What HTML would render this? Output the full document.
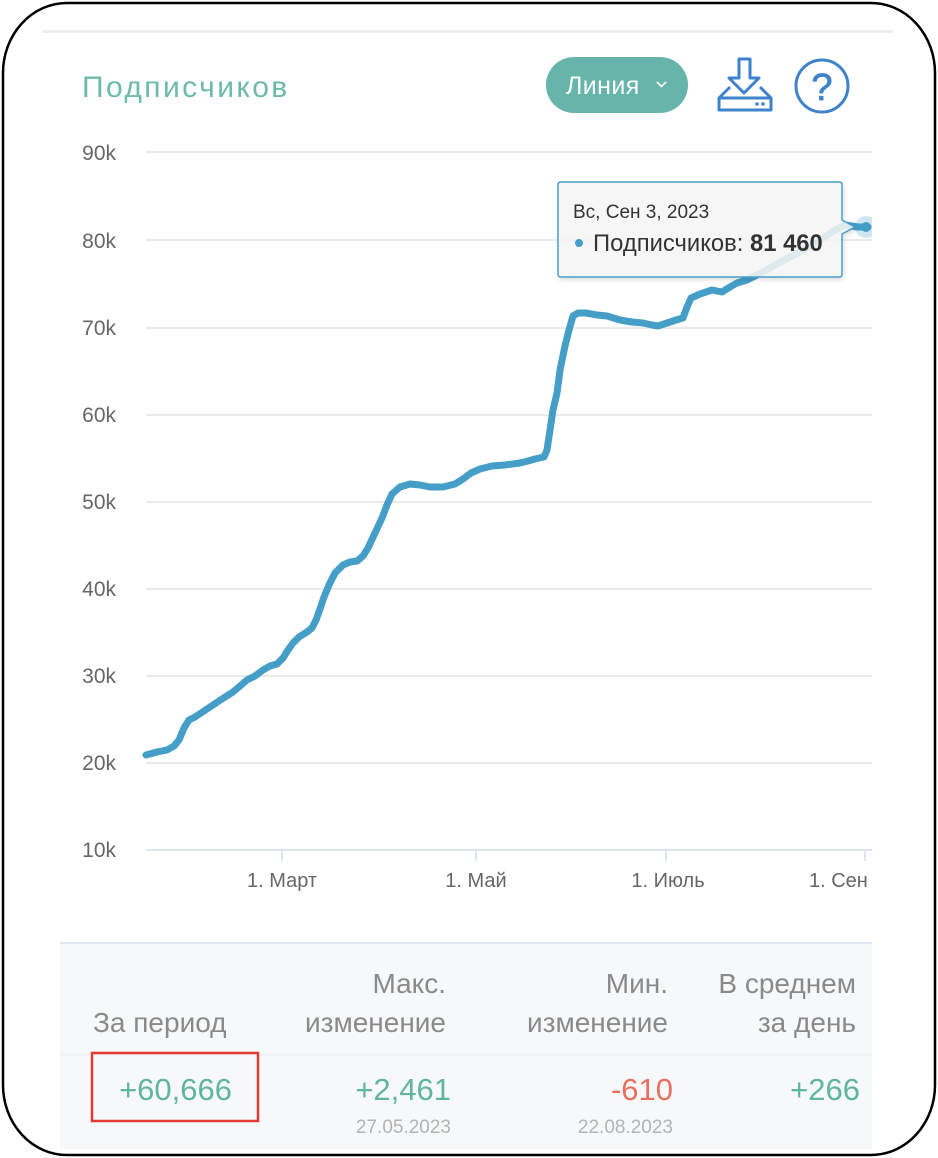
<!DOCTYPE html>
<html><head><meta charset="utf-8">
<style>
html,body{margin:0;padding:0;background:#fff;}
body{width:938px;height:1158px;overflow:hidden;}
svg{display:block;}
text{font-family:"Liberation Sans","DejaVu Sans",sans-serif;}
</style></head>
<body>
<svg width="938" height="1158" viewBox="0 0 938 1158" xmlns="http://www.w3.org/2000/svg">
<defs>
<clipPath id="plot"><rect x="140" y="140" width="732" height="720"/></clipPath>
<filter id="sh" x="-10%" y="-10%" width="120%" height="130%"><feDropShadow dx="1" dy="2" stdDeviation="2" flood-color="#000" flood-opacity="0.15"/></filter>
</defs>
<rect x="0" y="0" width="938" height="1158" fill="#fff"/>
<!-- top divider -->
<rect x="42" y="30" width="851" height="3" fill="#eceef2"/>
<!-- title -->
<text x="82" y="97" font-size="30" fill="#6cbba6" letter-spacing="2.4">Подписчиков</text>
<!-- button -->
<rect x="546" y="57" width="142" height="56" rx="28" fill="#66b4aa"/>
<text x="566" y="94" font-size="25" fill="#fff" letter-spacing="0.4">Линия</text>
<path d="M657 82 l4.5 4.5 l4.5 -4.5" stroke="#fff" stroke-width="1.8" fill="none"/>
<!-- download icon -->
<g stroke="#3e82cc" stroke-width="3" fill="none" stroke-linejoin="round">
<path d="M739 59 h11 v19 h9 l-15 15 l-15 -15 h10 z"/>
<path d="M730 87 l-11 11 v12 h52 v-12 l-11 -11"/>
<path d="M719 98 h52"/>
</g>
<circle cx="757" cy="104" r="1.8" fill="#3e82cc"/><circle cx="763" cy="104" r="1.8" fill="#3e82cc"/>
<!-- help icon -->
<circle cx="822" cy="86" r="26" stroke="#3e82cc" stroke-width="3" fill="none"/>
<text x="822" y="100" font-size="38" fill="#3e82cc" stroke="#3e82cc" stroke-width="0.8" text-anchor="middle">?</text>

<!-- grid -->
<g fill="#eaeaea">
<rect x="146" y="151" width="726" height="2"/>
<rect x="146" y="239" width="726" height="2"/>
<rect x="146" y="327" width="726" height="2"/>
<rect x="146" y="414" width="726" height="2"/>
<rect x="146" y="501" width="726" height="2"/>
<rect x="146" y="588" width="726" height="2"/>
<rect x="146" y="675" width="726" height="2"/>
<rect x="146" y="762" width="726" height="2"/>
</g>
<rect x="146" y="849" width="726" height="2" fill="#dde4f2"/>
<g fill="#dde4f2">
<rect x="281" y="850" width="2" height="11"/>
<rect x="475" y="850" width="2" height="11"/>
<rect x="665" y="850" width="2" height="11"/>
<rect x="864" y="850" width="2" height="11"/>
</g>
<g font-size="21" fill="#666" text-anchor="end">
<text x="116" y="160">90k</text>
<text x="116" y="248">80k</text>
<text x="116" y="335">70k</text>
<text x="116" y="422">60k</text>
<text x="116" y="509">50k</text>
<text x="116" y="596">40k</text>
<text x="116" y="683">30k</text>
<text x="116" y="770">20k</text>
<text x="116" y="857">10k</text>
</g>
<g font-size="20" fill="#666" text-anchor="middle">
<text x="282" y="887">1. Март</text>
<text x="476" y="887">1. Май</text>
<text x="668" y="887">1. Июль</text>
</g>
<text x="809" y="887" font-size="20" fill="#666">1. Сен</text>

<!-- series -->
<g clip-path="url(#plot)">
<polyline fill="none" stroke="#449ec8" stroke-width="7" stroke-linejoin="round" stroke-linecap="round"
points="146,755 157,752 167,750 174,746 179,740 184,728 189,720 195,717 210,707 222,699 233,692 240,686 247,680 255,676 263,670 270,666 277,664 283,658 288,650 293,643 299,637 307,632 312,628 316,620 320,609 324,597 329,585 335,573 343,565 350,562 357,561 363,556 368,548 375,533 382,518 387,505 392,494 400,487 410,484 420,485 430,487 443,487 455,484 463,479 471,473 480,469 492,466 505,465 520,463 528,461 535,459 544,457 547,450 550,430 553,410 557,393 560,370 565,346 569,330 573,316 578,313 586,313 597,315 607,316 620,320 632,322 643,323 652,325 658,326 667,323 676,320 683,318 687,307 691,298 700,294 712,290 722,292 730,287 737,283 747,280 755,276 765,271 775,265 790,257 805,249 820,240 835,230 845,225 858,227 868,227"/>
<circle cx="866" cy="227" r="11" fill="#449ec8" fill-opacity="0.25"/>
<circle cx="866" cy="227" r="5" fill="#449ec8"/>
</g>

<!-- tooltip -->
<g filter="url(#sh)">
<path d="M561 182 H839 Q842 182 842 185 V220 L855 227 L842 234 V274 Q842 277 839 277 H561 Q558 277 558 274 V185 Q558 182 561 182 Z" fill="#f7f7f7" fill-opacity="0.86" stroke="#4a9fc9" stroke-width="1.5"/>
</g>
<text x="573" y="218" font-size="19" fill="#333">Вс, Сен 3, 2023</text>
<circle cx="579" cy="243" r="4" fill="#449ec8"/>
<text x="593" y="251" font-size="23.8" fill="#333">Подписчиков: <tspan font-weight="bold">81 460</tspan></text>

<!-- table -->
<rect x="60" y="943" width="812" height="206" fill="#f6f8fa"/>
<rect x="60" y="942" width="812" height="2" fill="#dfe6f0"/>
<rect x="60" y="1054" width="812" height="1.5" fill="#eef0f3"/>
<g font-size="28" fill="#8a8a8a">
<text x="93" y="1032">За период</text>
<text x="446" y="993" text-anchor="end">Макс.</text>
<text x="446" y="1032" text-anchor="end">изменение</text>
<text x="668" y="993" text-anchor="end">Мин.</text>
<text x="668" y="1032" text-anchor="end">изменение</text>
<text x="856" y="993" text-anchor="end">В среднем</text>
<text x="856" y="1032" text-anchor="end">за день</text>
</g>
<g font-size="31">
<text x="232" y="1100" text-anchor="end" fill="#5fb59e">+60,666</text>
<text x="451" y="1100" text-anchor="end" fill="#5fb59e">+2,461</text>
<text x="673" y="1100" text-anchor="end" fill="#ea6f5e">-610</text>
<text x="860" y="1100" text-anchor="end" fill="#5fb59e">+266</text>
</g>
<g font-size="19" fill="#b3b3b3" text-anchor="end">
<text x="451" y="1133">27.05.2023</text>
<text x="673" y="1133">22.08.2023</text>
</g>
<rect x="92" y="1053" width="166" height="68" fill="none" stroke="#e53935" stroke-width="2.5"/>

<!-- outer frame -->
<rect x="3" y="3" width="932" height="1152" rx="64" ry="70" fill="none" stroke="#000" stroke-width="2.5"/>
</svg>
</body></html>
